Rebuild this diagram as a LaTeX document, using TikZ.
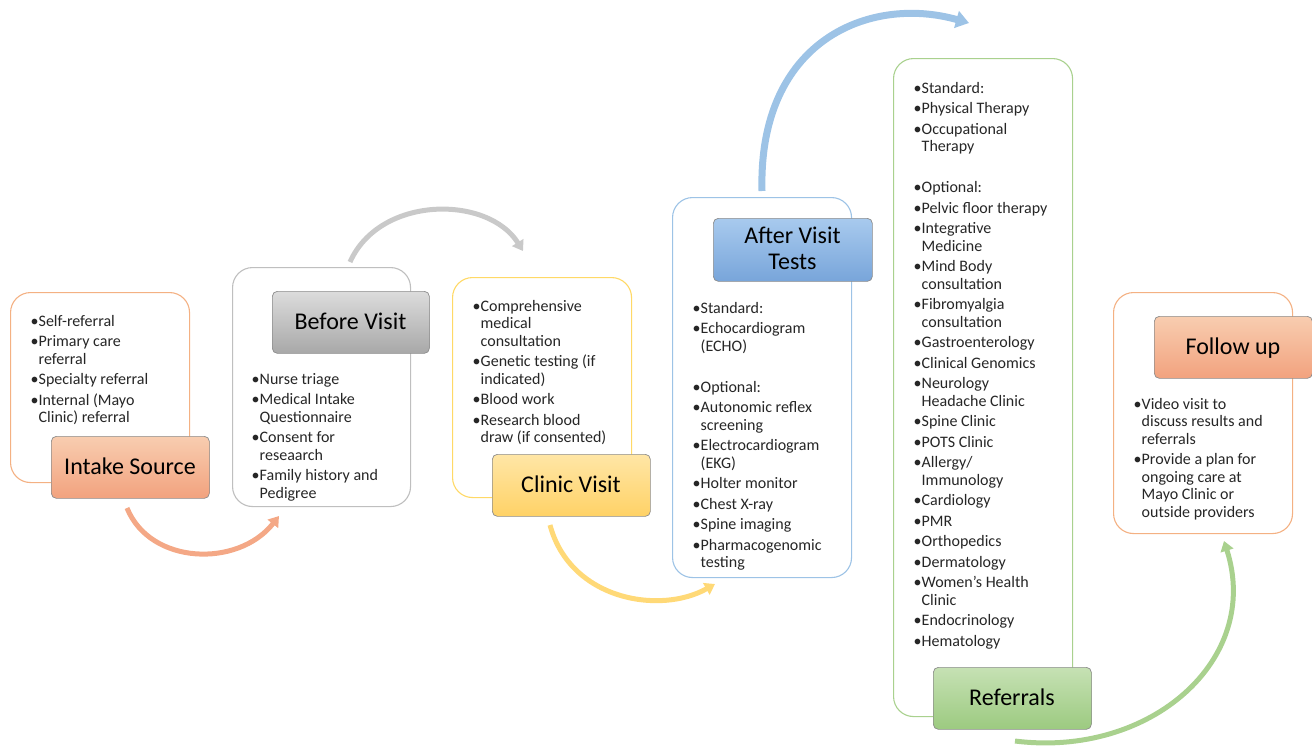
\documentclass[tikz,border=0pt]{standalone}
\usepackage{fontspec}
\setmainfont{Carlito}
\usetikzlibrary{arrows.meta}
\definecolor{cOrLine}{HTML}{F4B183}
\definecolor{cOrTop}{HTML}{F8CDB0}
\definecolor{cOrBot}{HTML}{F2A27E}
\definecolor{cOrArr}{HTML}{F4A886}
\definecolor{cGrLine}{HTML}{BFBFBF}
\definecolor{cGrTop}{HTML}{DCDCDC}
\definecolor{cGrBot}{HTML}{A8A8A8}
\definecolor{cGrArr}{HTML}{C9C9C9}
\definecolor{cYeLine}{HTML}{FFD966}
\definecolor{cYeTop}{HTML}{FFE6A6}
\definecolor{cYeBot}{HTML}{FFD266}
\definecolor{cYeArr}{HTML}{FFD977}
\definecolor{cBlLine}{HTML}{9DC3E6}
\definecolor{cBlTop}{HTML}{A8CAEE}
\definecolor{cBlBot}{HTML}{78A5DA}
\definecolor{cBlArr}{HTML}{9DC3E6}
\definecolor{cGnLine}{HTML}{A9D18E}
\definecolor{cGnTop}{HTML}{C6E1B4}
\definecolor{cGnBot}{HTML}{9CCA80}
\definecolor{cGnArr}{HTML}{A9D18E}
\definecolor{cText}{HTML}{262626}
\newcommand{\bu}{\makebox[8pt][l]{•}}
\newcommand{\gap}{\\[3pt]}
\tikzset{
  outerbox/.style={draw=#1, line width=1.1pt, rounded corners=20pt, fill=white,
    anchor=north west, inner sep=0pt},
  labelbox/.style={draw=black!45, line width=0.7pt, rounded corners=5pt,
    anchor=north west, inner sep=0pt},
  titletext/.style={inner sep=0pt, anchor=base, text=black,
    font=\fontsize{24}{26}\selectfont},
  listtext/.style={inner sep=0pt, anchor=base west, text=cText,
    font=\fontsize{16}{17.5}\selectfont},
  flowarrow/.style={draw=#1, line width=5pt,
    -{Triangle[width=13pt,length=10pt]}},
}
\begin{document}
\begin{tikzpicture}[x=1pt,y=-1pt]
\useasboundingbox (0,0) rectangle (1312,747);

% ---------- outer boxes ----------
\node[outerbox=cOrLine, minimum width=179pt, minimum height=190pt] (intakeOuter) at (10,292) {};
\node[outerbox=cGrLine, minimum width=178pt, minimum height=239pt] (beforeOuter) at (232,267) {};
\node[outerbox=cYeLine, minimum width=179pt, minimum height=220pt] (clinicOuter) at (452,277) {};
\node[outerbox=cBlLine, minimum width=179pt, minimum height=380pt] (afterOuter) at (672,197) {};
\node[outerbox=cGnLine, minimum width=179pt, minimum height=658pt] (refOuter) at (893,58) {};
\node[outerbox=cOrLine, minimum width=179pt, minimum height=241pt] (followOuter) at (1113,292) {};

% ---------- label boxes ----------
\node[labelbox, top color=cOrTop, bottom color=cOrBot, minimum width=158pt, minimum height=62pt] (intakeLbl) at (51,436) {};
\node[labelbox, top color=cGrTop, bottom color=cGrBot, minimum width=157pt, minimum height=62pt] (beforeLbl) at (272,291) {};
\node[labelbox, top color=cYeTop, bottom color=cYeBot, minimum width=158pt, minimum height=62pt] (clinicLbl) at (492,454) {};
\node[labelbox, top color=cBlTop, bottom color=cBlBot, minimum width=159pt, minimum height=63pt] (afterLbl) at (713,218) {};
\node[labelbox, top color=cGnTop, bottom color=cGnBot, minimum width=158pt, minimum height=62pt] (refLbl) at (933,667) {};
\node[labelbox, top color=cOrTop, bottom color=cOrBot, minimum width=158pt, minimum height=62pt] (followLbl) at (1154,316) {};

% ---------- titles ----------
\node[titletext] (intakeTitle) at (130,474.5) {Intake Source};
\node[titletext] (beforeTitle) at (350.5,329.5) {Before Visit};
\node[titletext] (clinicTitle) at (571,492.5) {Clinic Visit};
\node[titletext] (afterTitle) at (792.5,243) {\begin{tabular}[t]{@{}c@{}}After Visit\\Tests\end{tabular}};
\node[titletext] (refTitle) at (1012,705.5) {Referrals};
\node[titletext] (followTitle) at (1233,354.5) {Follow up};

% ---------- lists ----------
\node[listtext] (intakeList) at (30.5,326) {\begin{tabular}[t]{@{}l@{}l@{}}
\bu&Self-referral\gap
\bu&Primary care\\ &referral\gap
\bu&Specialty referral\gap
\bu&Internal (Mayo\\ &Clinic) referral
\end{tabular}};

\node[listtext] (beforeList) at (251.5,384) {\begin{tabular}[t]{@{}l@{}l@{}}
\bu&Nurse triage\gap
\bu&Medical Intake\\ &Questionnaire\gap
\bu&Consent for\\ &reseaarch\gap
\bu&Family history and\\ &Pedigree
\end{tabular}};

\node[listtext] (clinicList) at (472.5,311) {\begin{tabular}[t]{@{}l@{}l@{}}
\bu&Comprehensive\\ &medical\\ &consultation\gap
\bu&Genetic testing (if\\ &indicated)\gap
\bu&Blood work\gap
\bu&Research blood\\ &draw (if consented)
\end{tabular}};

\node[listtext] (afterList) at (692.5,313) {\begin{tabular}[t]{@{}l@{}l@{}}
\bu&Standard:\gap
\bu&Echocardiogram\\ &(ECHO)\\[23.5pt]
\bu&Optional:\gap
\bu&Autonomic reflex\\ &screening\gap
\bu&Electrocardiogram\\ &(EKG)\gap
\bu&Holter monitor\gap
\bu&Chest X-ray\gap
\bu&Spine imaging\gap
\bu&Pharmacogenomic\\ &testing
\end{tabular}};

\node[listtext] (refList) at (913.5,93) {\begin{tabular}[t]{@{}l@{}l@{}}
\bu&Standard:\gap
\bu&Physical Therapy\gap
\bu&Occupational\\ &Therapy\\[23.5pt]
\bu&Optional:\gap
\bu&Pelvic floor therapy\gap
\bu&Integrative\\ &Medicine\gap
\bu&Mind Body\\ &consultation\gap
\bu&Fibromyalgia\\ &consultation\gap
\bu&Gastroenterology\gap
\bu&Clinical Genomics\gap
\bu&Neurology\\ &Headache Clinic\gap
\bu&Spine Clinic\gap
\bu&POTS Clinic\gap
\bu&Allergy/\\ &Immunology\gap
\bu&Cardiology\gap
\bu&PMR\gap
\bu&Orthopedics\gap
\bu&Dermatology\gap
\bu&Women’s Health\\ &Clinic\gap
\bu&Endocrinology\gap
\bu&Hematology
\end{tabular}};

\node[listtext] (followList) at (1133.5,409) {\begin{tabular}[t]{@{}l@{}l@{}}
\bu&Video visit to\\ &discuss results and\\ &referrals\gap
\bu&Provide a plan for\\ &ongoing care at\\ &Mayo Clinic or\\ &outside providers
\end{tabular}};

% ---------- arrows ----------
\coordinate (a1s) at (127,508);  \coordinate (a1e) at (279,516);
\coordinate (a2s) at (350,262);  \coordinate (a2e) at (523,251);
\coordinate (a3s) at (550,525);  \coordinate (a3e) at (715,584);
\coordinate (a4s) at (762,191);  \coordinate (a4e) at (969,23);
\coordinate (a5s) at (1015,741); \coordinate (a5e) at (1224,541);

\draw[flowarrow=cOrArr] (a1s) .. controls (150,565) and (238,568) .. (a1e);
\draw[flowarrow=cGrArr] (a2s) .. controls (380,195) and (488,195) .. (a2e);
\draw[flowarrow=cYeArr] (a3s) .. controls (570,600) and (660,615) .. (a3e);
\draw[flowarrow=cBlArr, line width=7pt, -{Triangle[width=17pt,length=13pt]}] (a4s) .. controls (758,40) and (870,-5) .. (a4e);
\draw[flowarrow=cGnArr] (a5s) .. controls (1150,758) and (1262,660) .. (a5e);
\end{tikzpicture}
\end{document}
